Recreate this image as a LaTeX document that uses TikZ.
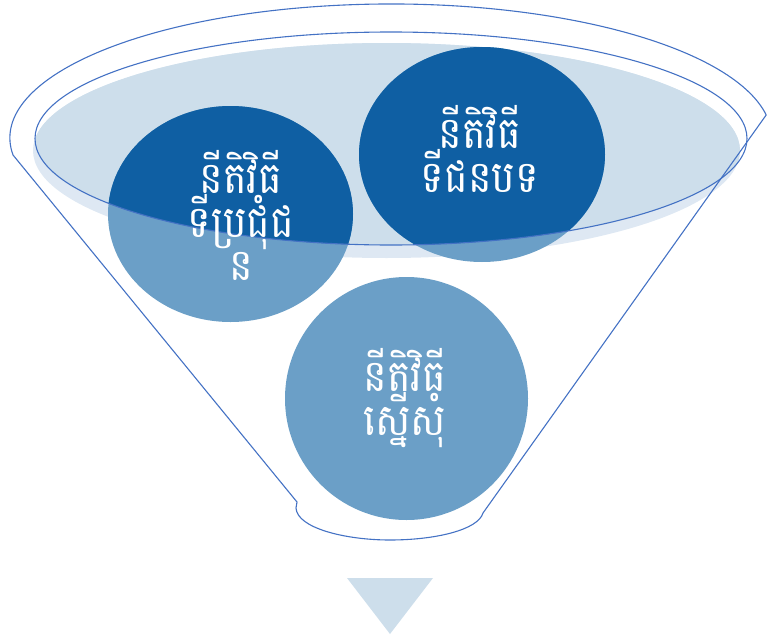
\documentclass[tikz,border=0pt]{standalone}
\usepackage{fontspec}
\newfontfamily\khmer[Script=Khmer,FakeStretch=0.9]{Battambang}
\usetikzlibrary{shapes.geometric}
\definecolor{darkb}{HTML}{0F5FA3}
\definecolor{midb}{HTML}{6B9FC7}
\definecolor{lightin}{HTML}{CDDEEB}
\definecolor{lightout}{HTML}{DEE8F3}
\definecolor{edgec}{HTML}{4472C4}
\tikzset{
  blob/.style={ellipse, fill=midb, draw=none, inner sep=0pt},
  edgeline/.style={draw=edgec, line width=1.1pt, line join=round},
  lbl/.style={text=white, align=center, inner sep=0pt, font=\khmer\fontsize{44}{43}\selectfont}
}
\begin{document}
\begin{tikzpicture}[x=1pt,y=-1pt]
\useasboundingbox (0,0) rectangle (769,637);
% light ellipse
\fill[lightout] (386.5,150.5) ellipse [x radius=353.5, y radius=107.5];
\begin{scope}
  \clip (391,138.5) ellipse [x radius=356, y radius=106.5];
  \fill[lightin] (386.5,150.5) ellipse [x radius=353.5, y radius=107.5];
\end{scope}
% circles
\node[blob, minimum width=245pt, minimum height=216pt] (c1) at (230.5,214) {};
\node[blob, minimum width=246pt, minimum height=215pt] (c2) at (482,154.5) {};
\node[blob, minimum width=243pt, minimum height=243pt] (c3) at (406.5,398.5) {};
\begin{scope}
  \clip (391,138.5) ellipse [x radius=356, y radius=106.5];
  \fill[darkb] (c1.center) ellipse [x radius=122.5, y radius=108];
  \fill[darkb] (c2.center) ellipse [x radius=123, y radius=107.5];
\end{scope}
% inner rim
\draw[edgeline] (391,138.5) ellipse [x radius=356, y radius=106.5];
% funnel outline
\draw[edgeline] (13,155) arc[start angle=172.7, end angle=350.1, x radius=381, y radius=134]
  -- (483,513) .. controls (478,530) and (435,540) .. (390,540)
  .. controls (345,540) and (297,528) .. (296,508) -- (297,502) -- cycle;
% arrow triangle
\fill[lightin] (347,578) -- (433,578) -- (390,634) -- cycle;
% labels
\node[lbl, anchor=north] (t2) at (480,105) {នីតិវិធី\\ទីជនបទ};
\node[lbl, anchor=north] (t1) at (241,150) {នីតិវិធី\\ទីប្រជុំជ\\ន};
\node[lbl, anchor=north] (t3) at (405,348) {នីតិវិធី\\ស្នើសុំ};
\end{tikzpicture}
\end{document}
